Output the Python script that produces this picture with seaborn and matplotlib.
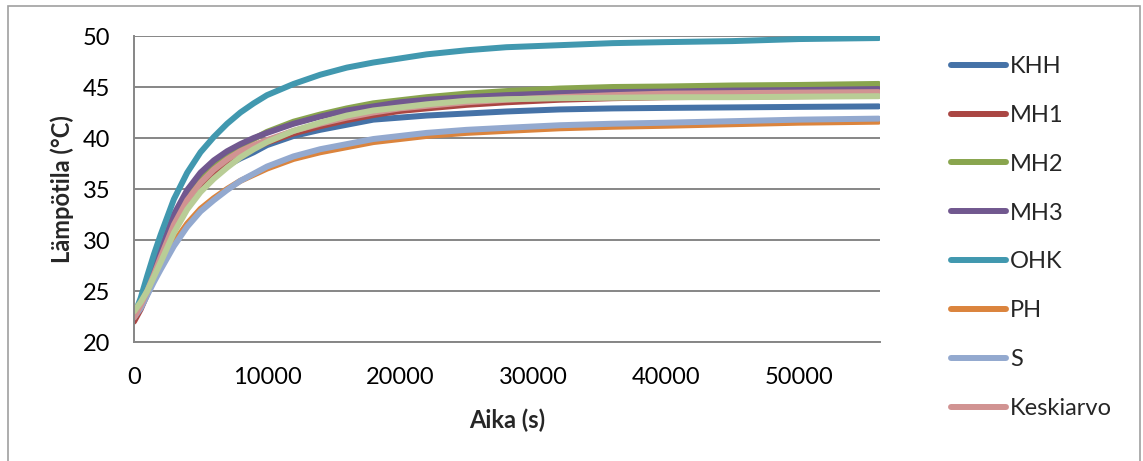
import numpy as np
import pandas as pd
import matplotlib
matplotlib.use("Agg")
import matplotlib.pyplot as plt
from matplotlib.lines import Line2D
from matplotlib.patches import Rectangle
import seaborn as sns

# ---- data ----
time_s = [0, 500, 1000, 1500, 2000, 3000, 4000, 5000, 6000, 7000, 8000, 9000, 10000,
          12000, 14000, 16000, 18000, 20000, 22000, 25000, 28000, 32000, 36000, 40000,
          45000, 50000, 56000]

khh = [22.3, 23.5, 25.0, 26.6, 28.2, 31.3, 33.6, 35.2, 36.4, 37.3, 38.0, 38.6, 39.3,
       40.2, 40.8, 41.3, 41.8, 42.0, 42.2, 42.4, 42.6, 42.8, 42.9, 42.95, 43.0, 43.05, 43.1]
mh1 = [22.0, 23.2, 24.7, 26.3, 27.9, 31.0, 33.4, 35.1, 36.5, 37.5, 38.4, 39.0, 39.55,
       40.45, 41.15, 41.75, 42.25, 42.65, 42.9, 43.25, 43.5, 43.75, 43.9, 44.0, 44.05, 44.1, 44.15]
mh2 = [22.5, 23.7, 25.2, 26.8, 28.6, 31.9, 34.3, 36.1, 37.4, 38.4, 39.2, 39.9, 40.6,
       41.6, 42.3, 42.9, 43.4, 43.7, 44.0, 44.35, 44.6, 44.85, 45.0, 45.05, 45.15, 45.2, 45.3]
mh3 = [22.4, 23.8, 25.4, 27.2, 29.0, 32.5, 34.9, 36.6, 37.8, 38.7, 39.4, 40.0, 40.5,
       41.4, 42.1, 42.7, 43.1, 43.5, 43.75, 44.0, 44.2, 44.4, 44.5, 44.55, 44.65, 44.7, 44.8]
ohk = [22.6, 24.3, 26.5, 28.6, 30.5, 34.0, 36.6, 38.6, 40.1, 41.4, 42.5, 43.4, 44.2,
       45.3, 46.2, 46.9, 47.4, 47.8, 48.2, 48.6, 48.9, 49.1, 49.3, 49.4, 49.5, 49.7, 49.8]
ph = [22.5, 23.5, 24.9, 26.2, 27.45, 29.75, 31.6, 33.05, 34.1, 35.0, 35.8, 36.4, 37.0,
      37.95, 38.6, 39.1, 39.6, 39.9, 40.2, 40.5, 40.7, 40.95, 41.1, 41.2, 41.35, 41.5, 41.6]
s = [22.4, 23.3, 24.6, 25.9, 27.1, 29.4, 31.3, 32.8, 33.9, 34.9, 35.8, 36.5, 37.2,
     38.2, 38.9, 39.4, 39.9, 40.2, 40.5, 40.8, 41.0, 41.25, 41.4, 41.5, 41.65, 41.8, 41.9]
keskiarvo = [22.4, 23.6, 25.0, 26.6, 28.3, 31.5, 33.9, 35.6, 36.9, 37.9, 38.7, 39.3, 39.8,
             40.7, 41.4, 42.0, 42.5, 42.9, 43.15, 43.5, 43.75, 44.0, 44.2, 44.35, 44.4, 44.45, 44.5]
extra = [23.0, 23.9, 25.0, 26.4, 27.8, 30.7, 33.0, 34.7, 36.0, 37.1, 38.1, 38.9, 39.6,
         40.7, 41.5, 42.2, 42.7, 43.0, 43.3, 43.65, 43.8, 43.9, 43.95, 44.0, 44.0, 44.05, 44.1]

series_names = ["KHH", "MH1", "MH2", "MH3", "OHK", "PH", "S", "Keskiarvo", "extra"]
series_values = [khh, mh1, mh2, mh3, ohk, ph, s, keskiarvo, extra]
legend_names = ["KHH", "MH1", "MH2", "MH3", "OHK", "PH", "S", "Keskiarvo"]

colors = {"KHH": "#4572A7", "MH1": "#AA4643", "MH2": "#89A54E", "MH3": "#71588F",
          "OHK": "#4198AF", "PH": "#DB843D", "S": "#93A9CF", "Keskiarvo": "#D19392",
          "extra": "#B9CD96"}

df = pd.concat([pd.DataFrame({"Aika": time_s, "T": vals, "Sarja": name})
                for name, vals in zip(series_names, series_values)], ignore_index=True)

# ---- figure ----
sns.set_theme(style="white")
plt.rcParams["font.family"] = ["Lato", "DejaVu Sans"]

fig = plt.figure(figsize=(11.43, 4.61), dpi=100)
ax = fig.add_axes([134/1143, 1-342/461, (880-134)/1143, (342-36)/461])

sns.lineplot(data=df, x="Aika", y="T", hue="Sarja", hue_order=series_names,
             palette=colors, linewidth=4.3, legend=False, sort=False, ax=ax,
             solid_capstyle="round", solid_joinstyle="round")

ax.set_xlim(0, 56100)
ax.set_ylim(20, 50)
ax.set_xticks(range(0, 50001, 10000))
ax.set_yticks(range(20, 51, 5))
ax.yaxis.grid(True, color="#868686", linewidth=1.4)
ax.xaxis.grid(False)
ax.set_axisbelow(True)
for sp in ["top", "right"]:
    ax.spines[sp].set_visible(False)
for sp in ["left", "bottom"]:
    ax.spines[sp].set_color("#868686")
    ax.spines[sp].set_linewidth(1.4)
ax.tick_params(axis="both", which="major", direction="out", length=6, width=1.4,
               color="#868686", labelsize=17, labelcolor="black")
ax.tick_params(axis="y", pad=11)
ax.tick_params(axis="x", pad=12)
ax.set_xlabel("Aika (s)", fontsize=17, fontweight="bold", labelpad=15)
ax.set_ylabel("Lämpötila (°C)", fontsize=17, fontweight="bold", labelpad=6)

handles = [Line2D([0], [0], color=colors[n], lw=4.3, solid_capstyle="round") for n in legend_names]
fig.legend(handles, legend_names, loc="upper left", bbox_to_anchor=(951/1143, 1-56/461),
           frameon=False, fontsize=17, handlelength=2.35, handletextpad=0.15,
           labelspacing=1.18, borderpad=0, borderaxespad=0)

fig.patches.append(Rectangle((8/1143, -0.1), (1140-8)/1143, 1-6/461+0.1,
                             transform=fig.transFigure, fill=False,
                             edgecolor="#a0a0a0", linewidth=1.2))

fig.savefig("out.png", dpi=100)
